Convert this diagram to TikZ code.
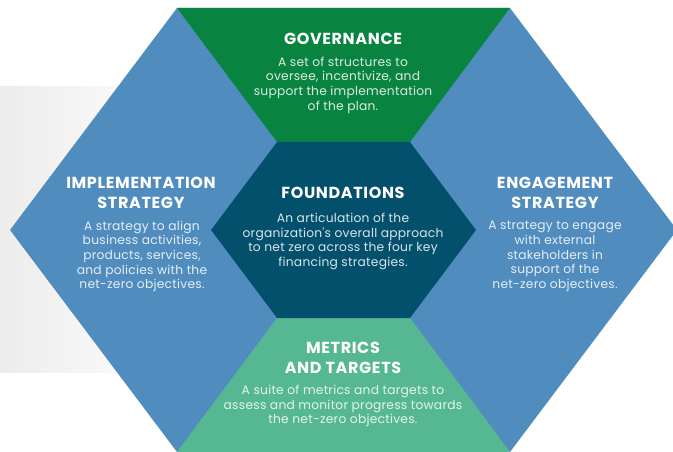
\documentclass[tikz,border=0pt]{standalone}
\usepackage{fontspec}
\setmainfont{Poppins}
\newfontfamily\titlefont[LetterSpace=4]{Poppins}
\newfontfamily\bodyfont[LetterSpace=2]{Poppins}
\definecolor{govgreen}{RGB}{9,132,64}
\definecolor{hexblue}{RGB}{80,141,190}
\definecolor{founddark}{RGB}{3,80,109}
\definecolor{mint}{RGB}{85,184,146}
\definecolor{bggray}{RGB}{236,236,235}
\begin{document}
\begin{tikzpicture}[x=0.75pt,y=-0.75pt,
  title/.style={font=\titlefont\bfseries\fontsize{12}{15}\selectfont, text=white, align=center, inner sep=0pt},
  body/.style={font=\bodyfont\fontsize{9.2}{11}\selectfont, align=center, inner sep=0pt}]
\useasboundingbox (0,0) rectangle (673,452);
\clip (0,0) rectangle (673,452);
% background band
\shade[left color=bggray, right color=white] (0,87) rectangle (180,372);
% outer hexagon (blue)
\fill[hexblue] (177,8) -- (510,8) -- (677,230) -- (510,452) -- (177,452) -- (10,230) -- cycle;
% governance trapezoid
\fill[govgreen] (177,8) -- (510,8) -- (410,142) -- (277,142) -- cycle;
% metrics trapezoid
\fill[mint] (277,318) -- (410,318) -- (510,452) -- (177,452) -- cycle;
% foundations hexagon
\fill[founddark] (277,142) -- (410,142) -- (476,230) -- (410,318) -- (277,318) -- (211,230) -- cycle;
% texts
\node[title] (govt) at (343,39) {GOVERNANCE};
\node[body, text=white!85!govgreen] (govb) at (343,85) {A set of structures to\\oversee, incentivize, and\\support the implementation\\of the plan.};
\node[title] (fout) at (343,193) {FOUNDATIONS};
\node[body, text=white!85!founddark] (foub) at (343,241.5) {An articulation of the\\organization's overall approach\\to net zero across the four key\\financing strategies.};
\node[title] (impt) at (141,193) {IMPLEMENTATION\\STRATEGY};
\node[body, text=white!85!hexblue] (impb) at (142,256.5) {A strategy to align\\business activities,\\products, services,\\and policies with the\\net-zero objectives.};
\node[title] (engt) at (555,193) {ENGAGEMENT\\STRATEGY};
\node[body, text=white!85!hexblue] (engb) at (555,256.5) {A strategy to engage\\with external\\stakeholders in\\support of the\\net-zero objectives.};
\node[title] (mett) at (343,357.5) {METRICS\\AND TARGETS};
\node[body, text=white!85!mint] (metb) at (343,406) {A suite of metrics and targets to\\assess and monitor progress towards\\the net-zero objectives.};
\end{tikzpicture}
\end{document}
